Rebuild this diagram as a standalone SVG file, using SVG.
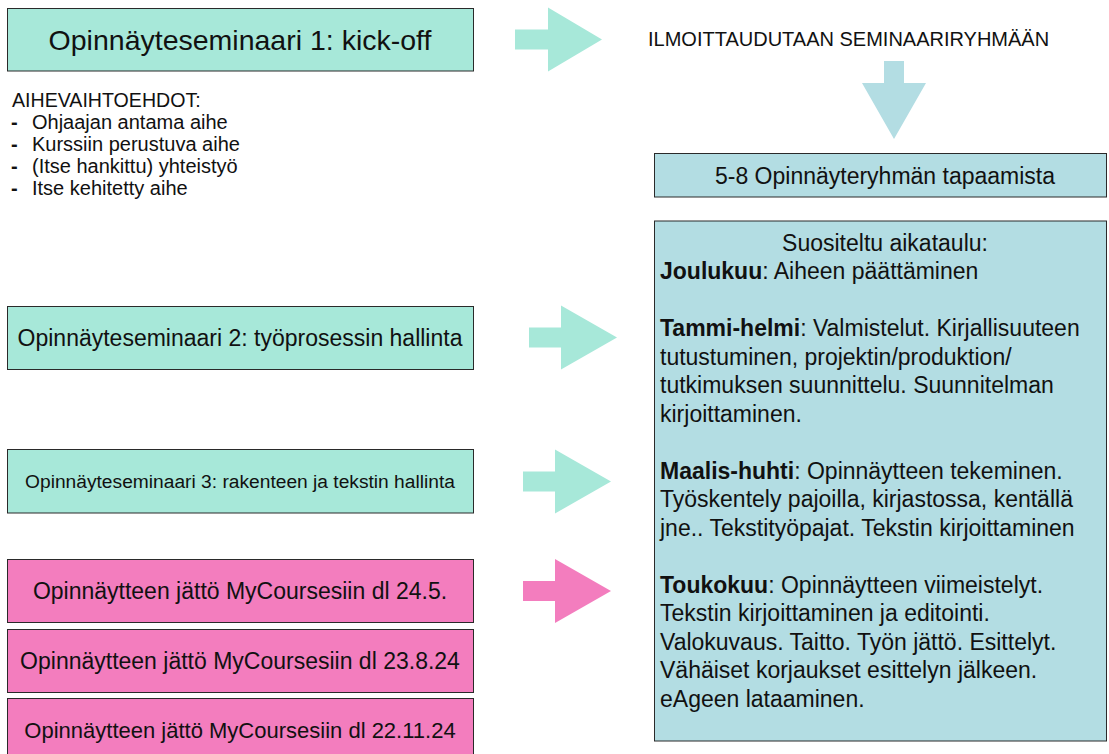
<svg xmlns="http://www.w3.org/2000/svg" width="1109" height="754" viewBox="0 0 1109 754">
<style>
text{font-family:"Liberation Sans",Arial,Helvetica,sans-serif;fill:#111;}
.mint{fill:#a7e8d9;stroke:#2a2a2a;stroke-width:1;}
.blue{fill:#b3dde3;stroke:#2a2a2a;stroke-width:1;}
.pink{fill:#f37dbe;stroke:#2a2a2a;stroke-width:1;}
.am{fill:#a7e8d9;}
.ab{fill:#b3dde3;}
.ap{fill:#f37dbe;}
.c{text-anchor:middle;}
.b{font-weight:bold;}
.t23{font-size:23px;}
</style>
<rect width="1109" height="754" fill="#ffffff"/>
<g id="connectors">
<polygon class="am" points="515,29.5 548,29.5 548,7.5 602,39.5 548,71.5 548,49.5 515,49.5"/>
<polygon class="ab" points="884,61 904,61 904,83 926,83 894,139 862,83 884,83"/>
<polygon class="am" points="529,327.5 561,327.5 561,305.5 617,337.5 561,369.5 561,347.5 529,347.5"/>
<polygon class="am" points="523,471.5 555,471.5 555,449.5 611,481.5 555,513.5 555,491.5 523,491.5"/>
<polygon class="ap" points="523,581 555,581 555,559 611,591 555,623 555,601 523,601"/>
</g>
<g id="seminar1">
<rect class="mint" x="7.5" y="8.5" width="466" height="62.5"/>
<text class="c" x="240" y="49.5" font-size="28.5">Opinnäyteseminaari 1: kick-off</text>
</g>
<g id="register">
<text x="648" y="46" font-size="20">ILMOITTAUDUTAAN SEMINAARIRYHMÄÄN</text>
</g>
<g id="topics">
<text x="12" y="107" font-size="19.6">AIHEVAIHTOEHDOT:</text>
<g font-size="20">
<text x="11" y="129" class="b">-</text><text x="32" y="129">Ohjaajan antama aihe</text>
<text x="11" y="151" class="b">-</text><text x="32" y="151">Kurssiin perustuva aihe</text>
<text x="11" y="173" class="b">-</text><text x="32" y="173">(Itse hankittu) yhteistyö</text>
<text x="11" y="195" class="b">-</text><text x="32" y="195">Itse kehitetty aihe</text>
</g>
</g>
<g id="meetings">
<rect class="blue" x="654.5" y="153.5" width="452" height="43.5"/>
<text class="c t23" x="885" y="183.5">5-8 Opinnäyteryhmän tapaamista</text>
</g>
<g id="schedule">
<rect class="blue" x="654.5" y="221" width="452" height="520"/>
<g class="t23">
<text class="c" x="885" y="250.5">Suositeltu aikataulu:</text>
<text x="660" y="279"><tspan class="b">Joulukuu</tspan>: Aiheen päättäminen</text>
<text x="660" y="336"><tspan class="b">Tammi-helmi</tspan>: Valmistelut. Kirjallisuuteen</text>
<text x="660" y="364.5">tutustuminen, projektin/produktion/</text>
<text x="660" y="393">tutkimuksen suunnittelu. Suunnitelman</text>
<text x="660" y="421.5">kirjoittaminen.</text>
<text x="660" y="478.5"><tspan class="b">Maalis-huhti</tspan>: Opinnäytteen tekeminen.</text>
<text x="660" y="507">Työskentely pajoilla, kirjastossa, kentällä</text>
<text x="660" y="535.5">jne.. Tekstityöpajat. Tekstin kirjoittaminen</text>
<text x="660" y="592.5"><tspan class="b">Toukokuu</tspan>: Opinnäytteen viimeistelyt.</text>
<text x="660" y="621">Tekstin kirjoittaminen ja editointi.</text>
<text x="660" y="649.5">Valokuvaus. Taitto. Työn jättö. Esittelyt.</text>
<text x="660" y="678">Vähäiset korjaukset esittelyn jälkeen.</text>
<text x="660" y="706.5">eAgeen lataaminen.</text>
</g>
</g>
<g id="seminar2">
<rect class="mint" x="7.5" y="306.5" width="466" height="63"/>
<text class="c t23" x="240" y="346">Opinnäyteseminaari 2: työprosessin hallinta</text>
</g>
<g id="seminar3">
<rect class="mint" x="7.5" y="449.5" width="466" height="63.5"/>
<text class="c" x="240" y="488" font-size="19.2">Opinnäyteseminaari 3: rakenteen ja tekstin hallinta</text>
</g>
<g id="deadline1">
<rect class="pink" x="7.5" y="559.5" width="466" height="63"/>
<text class="c t23" x="240" y="599">Opinnäytteen jättö MyCoursesiin dl 24.5.</text>
</g>
<g id="deadline2">
<rect class="pink" x="7.5" y="629.5" width="466" height="63"/>
<text class="c t23" x="240" y="669">Opinnäytteen jättö MyCoursesiin dl 23.8.24</text>
</g>
<g id="deadline3">
<rect class="pink" x="7.5" y="698.5" width="466" height="63"/>
<text class="c" x="240" y="737.5" font-size="22">Opinnäytteen jättö MyCoursesiin dl 22.11.24</text>
</g>
</svg>
